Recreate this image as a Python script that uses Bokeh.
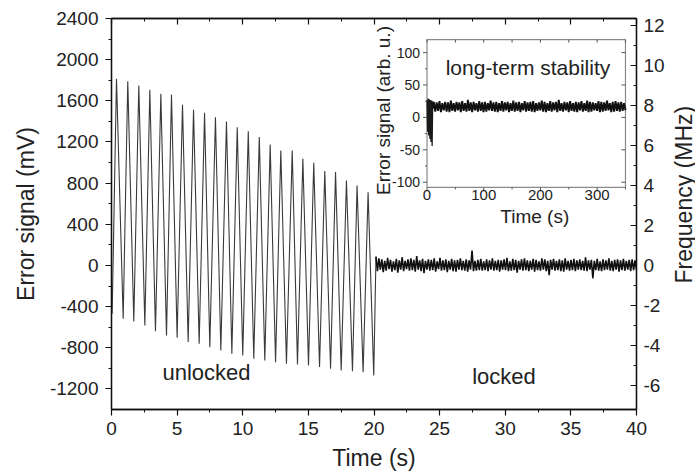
import numpy as np
from bokeh.plotting import figure
from bokeh.layouts import row
from bokeh.models import Range1d, LinearAxis, FixedTicker, CustomJSTickFormatter
from bokeh.core.properties import value
from bokeh.embed import file_html
from bokeh.resources import INLINE

# ---------------- data ----------------
x_ticks = [0, 5, 10, 15, 20, 25, 30, 35, 40]
y_ticks = [-1200, -800, -400, 0, 400, 800, 1200, 1600, 2000, 2400]
freq_ticks = [-6, -4, -2, 0, 2, 4, 6, 8, 10, 12]
inset_x_ticks = [0, 100, 200, 300]
inset_y_ticks = [-100, -50, 0, 50, 100]

# unlocked: troughs and peaks of the scanned error signal (s, mV)
trough_t = [0.05, 0.89, 1.70, 2.54, 3.35, 4.19, 5.00, 5.84, 6.68, 7.49, 8.33, 9.17, 10.00,
            10.84, 11.68, 12.50, 13.33, 14.17, 15.01, 15.85, 16.69, 17.50, 18.36, 19.17, 19.98]
trough_v = [-469, -518, -545, -583, -640, -680, -703, -745, -760, -794, -826, -858, -874,
            -907, -923, -940, -955, -962, -972, -988, -1004, -1020, -1027, -1037, -1069]
peak_t = [0.38, 1.24, 2.08, 2.92, 3.76, 4.57, 5.41, 6.25, 7.09, 7.92, 8.76, 9.58,
          10.42, 11.26, 12.09, 12.90, 13.77, 14.58, 15.41, 16.25, 17.07, 17.90, 18.71, 19.55]
peak_v = [1814, 1791, 1749, 1707, 1668, 1661, 1561, 1513, 1484, 1441, 1399, 1344,
          1305, 1247, 1176, 1117, 1117, 1037, 998, 917, 907, 826, 777, 712]

# locked: residual error signal (mV), 20.15 s .. 40 s
lock_v = [85, -55, 70, -40, 60, -65, 45, -50, 75, -35, 55, -60, 40, -45, 65, -70, 50, -40, 80, -55,
          45, -35, 60, -50, 70, -45, 55, -60, 90, -40, 50, -55, 65, -75, 45, -40, 60, -50, 55, -45,
          70, -60, 40, -35, 75, -50, 50, -45, 60, -65, 45, -40, 65, -55, 50, -60, 55, -40, 70, -45,
          45, -50, 60, -60, 50, -40, 145, -55, 45, -50, 55, -45, 65, -50, 40, -45, 60, -55, 50, -40,
          70, -50, 45, -45, 55, -60, 50, -40, 60, -45, 75, -55, 40, -50, 65, -45, 55, -70, 45, -40,
          60, -50, 70, -45, 50, -55, 45, -40, 65, -60, 55, -45, 40, -50, 70, -40, 60, -55, 45, -95,
          55, -40, 65, -50, 45, -45, 60, -55, 50, -60, 70, -40, 45, -50, 55, -45, 65, -55, 50, -40,
          60, -45, 45, -50, 80, -55, 50, -40, 55, -125, 45, -45, 65, -50, 40, -55, 60, -45, 50, -40,
          70, -50, 45, -55, 55, -40, 60, -60, 50, -45, 65, -50, 45, -40, 55, -55, 60, -45, 50, -40]
lock_start, lock_end = 20.15, 40.0

# inset: long-term error signal (arb. u.)
inset_early_t = [0, 1, 2, 3, 4, 5, 6, 7, 8, 9, 10, 11]
inset_early_v = [27, -22, 29, -28, 28, -33, 27, -38, 26, -44, 25, 14]
inset_band_v = [24, 9, 23, 10, 25, 8, 22, 11, 24, 9, 23, 8, 26, 10, 22, 9, 24, 11, 23, 8, 25, 10, 22, 9, 27, 10, 23, 8, 24, 11, 22, 9,
                25, 10, 23, 8, 24, 9, 22, 11, 26, 10, 23, 9, 24, 8, 22, 10, 25, 9, 23, 11, 24, 8, 22, 10, 26, 9, 23, 10, 24, 8, 22, 11,
                25, 9, 23, 10, 24, 9, 25, 8, 22, 10, 23, 11, 26, 9, 24, 8, 22, 10, 25, 9, 23, 11, 24, 8, 27, 10, 22, 9, 24, 11, 23, 8,
                25, 10, 22, 9, 24, 8, 23, 11, 25, 9, 22, 10, 26, 8, 24, 9, 23, 11, 22, 10, 25, 8, 24, 9, 23, 10, 26, 11, 22, 8, 24, 9,
                25, 10, 23, 9, 24, 10, 22, 11]
inset_band_start, inset_band_end = 12, 350

# ---------------- layout constants ----------------
FONT = value("Liberation Sans")
X_RANGE = (0, 40)
Y_RANGE = (-1400, 2400)
F_RANGE = (-7.2, 12.35)
IX_RANGE = (0, 350)
IY_RANGE = (-108, 120)
# inset box as fractions of the main frame
IL, IR, IB, IT = 0.601, 0.979, 0.568, 0.946
FRAME_W, FRAME_H = 525, 391
MAIN_W, SIDE_W, H = 670, 25, 475

# build main sequence (interleave troughs and peaks)
main_t, main_v = [], []
for i in range(len(trough_t)):
    main_t.append(trough_t[i]); main_v.append(trough_v[i])
    if i < len(peak_t):
        main_t.append(peak_t[i]); main_v.append(peak_v[i])
lock_t = list(np.linspace(lock_start, lock_end, len(lock_v)))

p = figure(width=MAIN_W, height=H, x_range=Range1d(*X_RANGE), y_range=Range1d(*Y_RANGE),
           output_backend="svg", toolbar_location=None,
           min_border_left=111, min_border_right=MAIN_W - 636, min_border_top=18, min_border_bottom=66)
p.grid.visible = False
p.outline_line_color = "#111111"
p.outline_line_width = 1.3
p.background_fill_color = "white"
p.border_fill_color = "white"

def minor(ticks):
    return [ticks[i] + (ticks[i + 1] - ticks[i]) / 2 for i in range(len(ticks) - 1)]

def style_axis(ax, tick_in, tick_out, fs="19px"):
    ax.major_tick_in = tick_in
    ax.major_tick_out = tick_out
    ax.minor_tick_in = tick_in // 2 if tick_in else 0
    ax.minor_tick_out = tick_out // 2 if tick_out else 0
    ax.axis_line_color = "#111111"
    ax.axis_line_width = 1.3
    ax.major_tick_line_color = "#111111"
    ax.minor_tick_line_color = "#111111"
    ax.major_tick_line_width = 1.2
    ax.minor_tick_line_width = 1.0
    ax.major_label_text_font = "Liberation Sans"
    ax.major_label_text_font_size = fs
    ax.major_label_text_color = "#222222"
    ax.axis_label_text_font = "Liberation Sans"
    ax.axis_label_text_font_style = "normal"
    ax.axis_label_text_color = "#222222"

xa = p.xaxis[0]
xa.ticker = FixedTicker(ticks=x_ticks, minor_ticks=minor(x_ticks))
style_axis(xa, 0, 6)
xa.major_label_standoff = 6
xa.axis_label = "Time (s)"
xa.axis_label_text_font_size = "23px"
xa.axis_label_standoff = 7

ya = p.yaxis[0]
ya.ticker = FixedTicker(ticks=y_ticks, minor_ticks=minor(y_ticks))
ya.major_label_overrides = {v: str(v) for v in y_ticks}
style_axis(ya, 0, 6)
ya.major_label_standoff = 7
ya.axis_label = "Error signal (mV)"
ya.axis_label_text_font_size = "23px"
ya.axis_label_standoff = 8

p.extra_y_ranges = {"freq": Range1d(*F_RANGE)}
ra = LinearAxis(y_range_name="freq", ticker=FixedTicker(ticks=freq_ticks, minor_ticks=minor(freq_ticks)))
ra.major_label_overrides = {v: str(v) for v in freq_ticks}
style_axis(ra, 6, 0)
ra.major_label_standoff = 7
p.add_layout(ra, "right")

ta = LinearAxis(ticker=FixedTicker(ticks=x_ticks, minor_ticks=minor(x_ticks)),
                formatter=CustomJSTickFormatter(code="return ''"))
style_axis(ta, 6, 0, fs="1px")
ta.major_label_standoff = 0
p.add_layout(ta, "above")

# main trace
p.line(main_t + [lock_t[0]], main_v + [lock_v[0]], line_color="#3a3a3a", line_width=1.1)
p.line(lock_t, lock_v, line_color="#111111", line_width=1.6)

# annotations
p.text(x=[7.24], y=[-1040], text=["unlocked"], text_font=FONT, text_font_size="22px",
       text_align="center", text_baseline="middle", text_color="#222222")
p.text(x=[29.9], y=[-1078], text=["locked"], text_font=FONT, text_font_size="22px",
       text_align="center", text_baseline="middle", text_color="#222222")

# ---------------- inset (drawn with extra ranges) ----------------
sx = (IX_RANGE[1] - IX_RANGE[0]) / (IR - IL)
sy = (IY_RANGE[1] - IY_RANGE[0]) / (IT - IB)
ix0 = IX_RANGE[0] - IL * sx
iy0 = IY_RANGE[0] - IB * sy
p.extra_x_ranges = {"ix": Range1d(ix0, ix0 + sx)}
p.extra_y_ranges["iy"] = Range1d(iy0, iy0 + sy)
ux = sx / FRAME_W   # data units per px
uy = sy / FRAME_H
kw = dict(x_range_name="ix", y_range_name="iy")

p.quad(left=[IX_RANGE[0]], right=[IX_RANGE[1]], bottom=[IY_RANGE[0]], top=[IY_RANGE[1]],
       fill_color="white", line_color="#8a8a8a", line_width=1.2, **kw)

# inset data
p.line(inset_early_t, inset_early_v, line_color="#1a1a1a", line_width=1.3, **kw)
band_t = list(np.linspace(inset_band_start, inset_band_end, len(inset_band_v)))
p.line([inset_early_t[-1]] + band_t, [inset_early_v[-1]] + inset_band_v,
       line_color="#111111", line_width=1.9, **kw)

# inset ticks
ixt_minor = minor(inset_x_ticks) + [inset_x_ticks[-1] + 50]
iyt_minor = minor(inset_y_ticks)
tc = "#555555"
p.segment(x0=[IX_RANGE[0] - 4 * ux] * len(inset_y_ticks), x1=[IX_RANGE[0]] * len(inset_y_ticks),
          y0=inset_y_ticks, y1=inset_y_ticks, line_color=tc, line_width=1, **kw)
p.segment(x0=[IX_RANGE[0] - 2 * ux] * len(iyt_minor), x1=[IX_RANGE[0]] * len(iyt_minor),
          y0=iyt_minor, y1=iyt_minor, line_color=tc, line_width=1, **kw)
p.segment(x0=[IX_RANGE[1] - 4 * ux] * len(inset_y_ticks), x1=[IX_RANGE[1]] * len(inset_y_ticks),
          y0=inset_y_ticks, y1=inset_y_ticks, line_color=tc, line_width=1, **kw)
p.segment(x0=inset_x_ticks, x1=inset_x_ticks, y0=[IY_RANGE[0] - 4 * uy] * len(inset_x_ticks),
          y1=[IY_RANGE[0]] * len(inset_x_ticks), line_color=tc, line_width=1, **kw)
p.segment(x0=ixt_minor, x1=ixt_minor, y0=[IY_RANGE[0] - 2 * uy] * len(ixt_minor),
          y1=[IY_RANGE[0]] * len(ixt_minor), line_color=tc, line_width=1, **kw)
p.segment(x0=inset_x_ticks + ixt_minor, x1=inset_x_ticks + ixt_minor,
          y0=[IY_RANGE[1]] * (len(inset_x_ticks) + len(ixt_minor)),
          y1=[IY_RANGE[1] - 3 * uy] * (len(inset_x_ticks) + len(ixt_minor)),
          line_color=tc, line_width=1, **kw)

# inset tick labels and titles
p.text(x=[IX_RANGE[0]] * len(inset_y_ticks), y=inset_y_ticks, text=[str(v) for v in inset_y_ticks],
       x_offset=-7, text_align="right", text_baseline="middle", text_font=FONT,
       text_font_size="14px", text_color="#222222", **kw)
p.text(x=inset_x_ticks, y=[IY_RANGE[0]] * len(inset_x_ticks), text=[str(v) for v in inset_x_ticks],
       y_offset=3, text_align="center", text_baseline="top", text_font=FONT,
       text_font_size="15px", text_color="#222222", **kw)
p.text(x=[190], y=[IY_RANGE[0]], text=["Time (s)"], y_offset=19, text_align="center",
       text_baseline="top", text_font=FONT, text_font_size="19px", text_color="#222222", **kw)
p.text(x=[IX_RANGE[0]], y=[(IY_RANGE[0] + IY_RANGE[1]) / 2], text=["Error signal (arb. u.)"],
       x_offset=-44, y_offset=-3, angle=np.pi / 2, text_align="center", text_baseline="middle",
       text_font=FONT, text_font_size="19px", text_color="#222222", **kw)
p.text(x=[178], y=[77], text=["long-term stability"], text_align="center", text_baseline="middle",
       text_font=FONT, text_font_size="21px", text_color="#222222", **kw)

# ---------------- right-hand title strip ----------------
side = figure(width=SIDE_W, height=H, x_range=Range1d(0, 1), y_range=Range1d(0, 1),
              output_backend="svg", toolbar_location=None, min_border=0,
              x_axis_location=None, y_axis_location=None)
side.grid.visible = False
side.outline_line_color = None
side.background_fill_color = "white"
side.border_fill_color = "white"
side.text(x=[0.52], y=[1 - 214 / H], text=["Frequency (MHz)"], angle=np.pi / 2,
          text_align="center", text_baseline="middle", text_font=FONT,
          text_font_size="23px", text_color="#222222")

layout = row(p, side, spacing=0)
open("out.html", "w").write(file_html(layout, INLINE))
